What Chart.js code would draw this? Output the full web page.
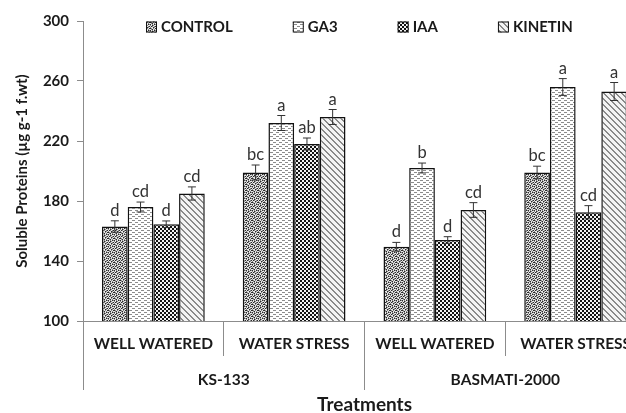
<!DOCTYPE html>
<html>
<head>
<meta charset="utf-8">
<script src="https://cdn.jsdelivr.net/npm/chart.js@4/dist/chart.umd.min.js"></script>
<style>
  html, body { margin: 0; padding: 0; background: #fff; overflow: hidden; }
  #wrap { width: 626px; height: 413px; overflow: hidden; }
</style>
</head>
<body>
<div id="wrap"><canvas id="chart" width="648" height="413"></canvas></div>
<script>
// categories
var subCategories = ['WELL WATERED', 'WATER STRESS', 'WELL WATERED', 'WATER STRESS'];
var varieties = ['KS-133', 'BASMATI-2000'];
var seriesNames = ['CONTROL', 'GA3', 'IAA', 'KINETIN'];

// soluble proteins (ug g-1 f.wt)
var control = [163, 199, 149.5, 199];
var ga3 = [176, 232, 202, 256];
var iaa = [164.5, 218, 154, 172.5];
var kinetin = [185, 236, 174, 253];

// standard errors
var controlErr = [3.8, 5, 2.9, 4.2];
var ga3Err = [3.3, 5, 3.3, 5.6];
var iaaErr = [2.2, 4, 2.2, 4.4];
var kinetinErr = [4.4, 5, 4.9, 6];

// significance letters
var controlLetters = ['d', 'bc', 'd', 'bc'];
var ga3Letters = ['cd', 'a', 'b', 'a'];
var iaaLetters = ['d', 'ab', 'd', 'cd'];
var kinetinLetters = ['cd', 'a', 'cd', 'a'];

var yTicks = [100, 140, 180, 220, 260, 300];

var FONT = 'Lato, "Open Sans", sans-serif';

function makePattern(rows, colors) {
    var c = document.createElement('canvas');
    c.width = rows[0].length;
    c.height = rows.length;
    var cx = c.getContext('2d');
    for (var y = 0; y < rows.length; y++) {
        for (var x = 0; x < rows[y].length; x++) {
            cx.fillStyle = colors[rows[y][x]];
            cx.fillRect(x, y, 1, 1);
        }
    }
    return cx.createPattern(c, 'repeat');
}

var patControl = makePattern(
    ['kwgwkg', 'gwkgww', 'wkgwgk', 'gwwkgw', 'kgwgwk', 'wgkwgw'],
    { k: '#2a2a2a', g: '#8a8a8a', w: '#e8e8e8' });
var patGa3 = makePattern(
    ['ggg...', '......', '...ggg', '......'],
    { g: '#8c8c8c', '.': '#ffffff' });
var patIaa = makePattern(
    ['kkww', 'kkww', 'wwkk', 'wwkk'],
    { k: '#111111', w: '#f2f2f2' });
var patKinetin = makePattern(
    ['gg....', '.gg...', '..gg..', '...gg.', '....gg', 'g....g'],
    { g: '#8a8a8a', '.': '#f4f4f4' });

var patterns = [patControl, patGa3, patIaa, patKinetin];
var errs = [controlErr, ga3Err, iaaErr, kinetinErr];
var letters = [controlLetters, ga3Letters, iaaLetters, kinetinLetters];
var values = [control, ga3, iaa, kinetin];

var datasets = seriesNames.map(function(name, i) {
    return {
        label: name,
        data: values[i],
        backgroundColor: patterns[i],
        borderColor: '#111',
        borderWidth: 1.5,
        borderSkipped: false,
        barPercentage: 1.0,
        categoryPercentage: 0.73
    };
});

// error bars + letters above the bars
var errorBarPlugin = {
    id: 'errorBars',
    afterDatasetsDraw: function(chart) {
        var ctx = chart.ctx;
        var yScale = chart.scales.y;
        ctx.save();
        chart.data.datasets.forEach(function(ds, di) {
            var meta = chart.getDatasetMeta(di);
            meta.data.forEach(function(bar, i) {
                var v = ds.data[i];
                var e = errs[di][i];
                var yTop = yScale.getPixelForValue(v + e);
                var yBot = yScale.getPixelForValue(v - e);
                ctx.strokeStyle = '#333';
                ctx.lineWidth = 1;
                ctx.beginPath();
                ctx.moveTo(bar.x, yTop);
                ctx.lineTo(bar.x, yBot);
                ctx.moveTo(bar.x - 4, yTop);
                ctx.lineTo(bar.x + 4, yTop);
                ctx.moveTo(bar.x - 4, yBot);
                ctx.lineTo(bar.x + 4, yBot);
                ctx.stroke();
                ctx.fillStyle = '#333';
                ctx.font = '16.5px ' + FONT;
                ctx.textAlign = 'center';
                ctx.textBaseline = 'bottom';
                ctx.fillText(letters[di][i], bar.x, yTop - 2);
            });
        });
        ctx.restore();
    }
};

// legend drawn inside the plot, across the top
var topLegendPlugin = {
    id: 'topLegend',
    afterDraw: function(chart) {
        var ctx = chart.ctx;
        ctx.save();
        ctx.font = 'bold 15px ' + FONT;
        ctx.textBaseline = 'middle';
        ctx.textAlign = 'left';
        var x = 146, y = 27, box = 11;
        chart.data.datasets.forEach(function(ds) {
            ctx.fillStyle = ds.backgroundColor;
            ctx.fillRect(x, y - box / 2, box, box);
            ctx.strokeStyle = '#111';
            ctx.lineWidth = 1;
            ctx.strokeRect(x + 0.5, y - box / 2 + 0.5, box - 1, box - 1);
            ctx.fillStyle = '#1a1a1a';
            ctx.fillText(ds.label, x + box + 4, y);
            x += box + 4 + ctx.measureText(ds.label).width + 60;
        });
        ctx.restore();
    }
};

var ctx = document.getElementById('chart').getContext('2d');
var chart = new Chart(ctx, {
    type: 'bar',
    data: {
        labels: subCategories,
        datasets: datasets
    },
    plugins: [errorBarPlugin, topLegendPlugin],
    options: {
        responsive: false,
        animation: false,
        layout: { padding: { top: 21, right: 2, left: 0, bottom: 0 } },
        plugins: {
            legend: { display: false },
            tooltip: { enabled: false }
        },
        scales: {
            x: {
                type: 'category',
                position: 'bottom',
                grid: { display: true, offset: true, drawOnChartArea: false, tickLength: 35, color: '#8c8c8c' },
                border: { display: true, color: '#8c8c8c', width: 1 },
                ticks: { padding: -21, color: '#1a1a1a', font: { family: FONT, size: 15.5, weight: 'bold' }, maxRotation: 0, autoSkip: false },
                afterFit: function(scale) { scale.height = 35; }
            },
            x2: {
                type: 'category',
                position: 'bottom',
                labels: varieties,
                grid: { display: true, offset: true, drawOnChartArea: false, tickLength: 34, color: '#8c8c8c' },
                border: { display: false },
                ticks: { padding: -19, color: '#1a1a1a', font: { family: FONT, size: 15.5, weight: 'bold' }, maxRotation: 0, autoSkip: false },
                title: { display: true, text: 'Treatments', color: '#1a1a1a', font: { family: FONT, size: 19, weight: 'bold' }, padding: { top: 0, bottom: -3 } },
                afterFit: function(scale) { scale.height = 57; }
            },
            y: {
                min: 100,
                max: 300,
                grid: { display: true, drawOnChartArea: false, tickLength: 6, color: '#8c8c8c' },
                border: { display: true, color: '#8c8c8c', width: 1 },
                afterBuildTicks: function(scale) {
                    scale.ticks = yTicks.map(function(v) { return { value: v }; });
                },
                ticks: { padding: 8, color: '#1a1a1a', font: { family: FONT, size: 15, weight: 'bold' } },
                title: { display: true, text: 'Soluble Proteins (µg g-1 f.wt)', color: '#1a1a1a', font: { family: FONT, size: 15, weight: 'bold' }, padding: { top: 13, bottom: 0 } },
                afterFit: function(scale) { scale.width = 83; }
            }
        }
    }
});
</script>
</body>
</html>
